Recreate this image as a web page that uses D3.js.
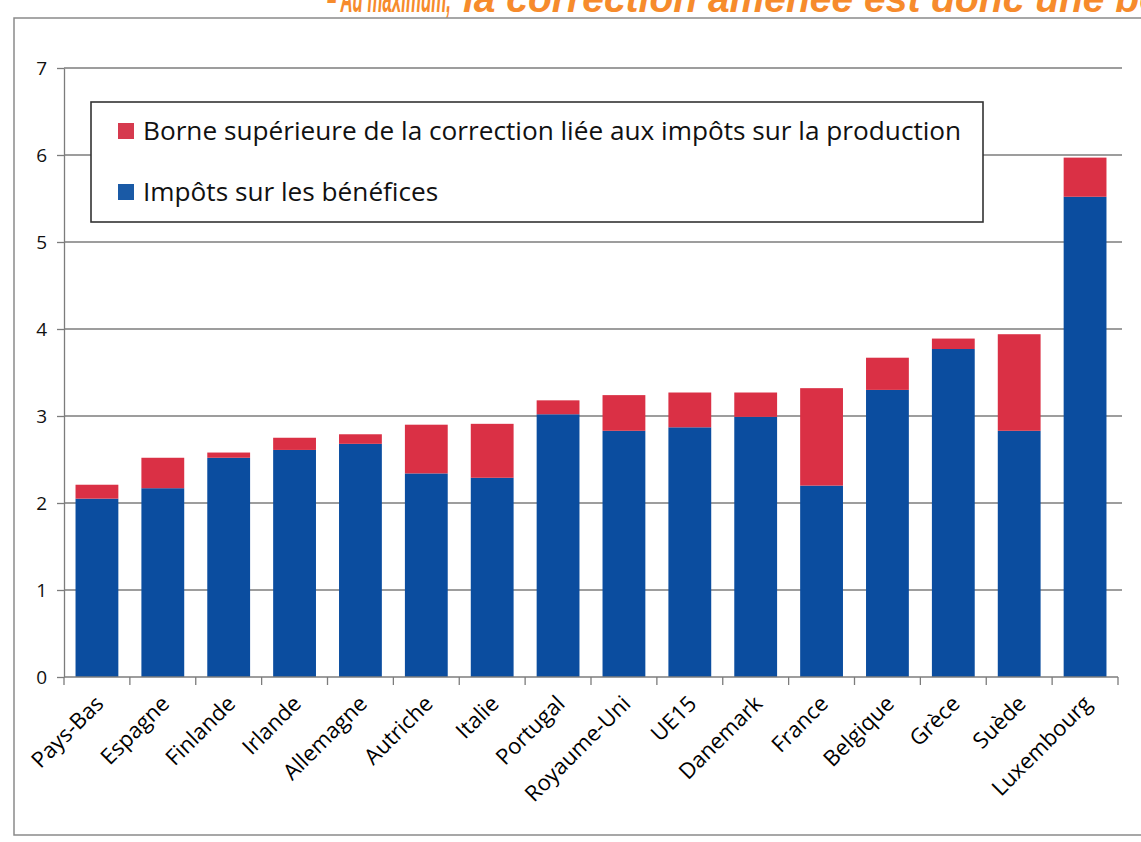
<!DOCTYPE html>
<html>
<head>
<meta charset="utf-8">
<script src="https://cdn.jsdelivr.net/npm/d3@7"></script>
<style>
  body { margin: 0; background: #fff; }
  svg { display: block; }
</style>
</head>
<body>
<svg id="chart" width="1141" height="842"></svg>
<script>
// countries, ordered as in the original
var pays = ['Pays-Bas', 'Espagne', 'Finlande', 'Irlande', 'Allemagne', 'Autriche', 'Italie', 'Portugal',
            'Royaume-Uni', 'UE15', 'Danemark', 'France', 'Belgique', 'Grèce', 'Suède', 'Luxembourg'];
// impôts sur les bénéfices (bottom, blue)
var benefices = [2.05, 2.17, 2.52, 2.61, 2.68, 2.34, 2.29, 3.02, 2.83, 2.87, 2.99, 2.20, 3.30, 3.77, 2.83, 5.52];
// borne supérieure de la correction (top, red)
var correction = [0.16, 0.35, 0.06, 0.14, 0.11, 0.56, 0.62, 0.16, 0.41, 0.40, 0.28, 1.12, 0.37, 0.12, 1.11, 0.45];
var yTicks = [0, 1, 2, 3, 4, 5, 6, 7];
var legendLabels = ['Borne supérieure de la correction liée aux impôts sur la production', 'Impôts sur les bénéfices'];

var blue = '#0b4d9f', red = '#da3045';
var svg = d3.select('#chart');
var font = '"Open Sans", sans-serif';

// top title, cut by the page edge
var titleStyle = function(t) {
    t.attr('y', 12)
     .attr('font-family', '"Liberation Sans", Arial, sans-serif')
     .attr('font-size', 39)
     .attr('font-weight', 'bold')
     .attr('font-style', 'italic')
     .attr('fill', '#f68b2c');
};
svg.append('text').call(titleStyle)
    .attr('x', 327)
    .attr('textLength', 124)
    .attr('lengthAdjust', 'spacingAndGlyphs')
    .text('– Au maximum,');
svg.append('text').call(titleStyle)
    .attr('x', 463)
    .text('la correction amenée est donc une borne supérieure');

// outer frame
svg.append('rect')
    .attr('x', 14).attr('y', 18)
    .attr('width', 1160).attr('height', 817)
    .attr('fill', 'none')
    .attr('stroke', '#8a8a8a')
    .attr('stroke-width', 1.5);

var mLeft = 64, mRight = 1118, mTop = 68, mBottom = 677;

var x = d3.scaleBand()
    .domain(pays)
    .range([mLeft, mRight])
    .paddingInner(0.35)
    .paddingOuter(0.175);

var y = d3.scaleLinear()
    .domain([0, 7])
    .range([mBottom, mTop]);

// gridlines
svg.append('g')
    .selectAll('line')
    .data(yTicks.slice(1))
    .enter()
    .append('line')
    .attr('x1', mLeft)
    .attr('x2', mRight + 4)
    .attr('y1', d => y(d))
    .attr('y2', d => y(d))
    .attr('stroke', '#7c7c7c')
    .attr('stroke-width', 1.3);

var yAxis = d3.axisLeft(y)
    .tickValues(yTicks)
    .tickFormat(d3.format('d'))
    .tickSize(7)
    .tickPadding(10)
    .tickSizeOuter(0);

var gy = svg.append('g')
    .attr('transform', 'translate(' + mLeft + ',0)')
    .call(yAxis);
gy.select('.domain').attr('stroke', '#7c7c7c').attr('stroke-width', 1.3);
gy.selectAll('line').attr('stroke', '#7c7c7c').attr('stroke-width', 1.3);
gy.selectAll('text')
    .attr('font-family', font)
    .attr('font-size', 19)
    .attr('fill', '#111');

// stacked bars
var stackData = pays.map((p, i) => ({pays: p, benefices: benefices[i], correction: correction[i]}));
var series = d3.stack().keys(['benefices', 'correction'])(stackData);
var colors = {benefices: blue, correction: red};

svg.append('g')
    .selectAll('g')
    .data(series)
    .enter()
    .append('g')
    .attr('fill', d => colors[d.key])
    .selectAll('rect')
    .data(d => d)
    .enter()
    .append('rect')
    .attr('x', d => x(d.data.pays))
    .attr('width', x.bandwidth())
    .attr('y', d => y(d[1]))
    .attr('height', d => y(d[0]) - y(d[1]));

// x axis: baseline with ticks between categories
var step = x.step();
var gx = svg.append('g').attr('transform', 'translate(0,' + mBottom + ')');
gx.append('line')
    .attr('x1', mLeft).attr('x2', mRight)
    .attr('stroke', '#7c7c7c')
    .attr('stroke-width', 1.3);
gx.selectAll('.tk')
    .data(d3.range(pays.length + 1))
    .enter()
    .append('line')
    .attr('class', 'tk')
    .attr('x1', i => mLeft + i * step)
    .attr('x2', i => mLeft + i * step)
    .attr('y1', 0).attr('y2', 8)
    .attr('stroke', '#7c7c7c')
    .attr('stroke-width', 1.3);
gx.selectAll('.lbl')
    .data(pays)
    .enter()
    .append('text')
    .attr('class', 'lbl')
    .attr('transform', d => 'translate(' + (x(d) + x.bandwidth() / 2 + 8) + ',28) rotate(-45)')
    .attr('text-anchor', 'end')
    .attr('font-family', font)
    .attr('font-size', 22)
    .attr('fill', '#000')
    .text(d => d);

// legend
var lg = svg.append('g');
lg.append('rect')
    .attr('x', 91).attr('y', 102)
    .attr('width', 892).attr('height', 120)
    .attr('fill', '#fff')
    .attr('stroke', '#333')
    .attr('stroke-width', 1.6);
var items = lg.selectAll('.item')
    .data(legendLabels)
    .enter()
    .append('g')
    .attr('transform', (d, i) => 'translate(118,' + (123 + i * 61) + ')');
items.append('rect')
    .attr('width', 16).attr('height', 16)
    .attr('fill', (d, i) => i === 0 ? '#d63a4e' : '#1a5aa6');
items.append('text')
    .attr('x', 25)
    .attr('y', 17)
    .attr('font-family', font)
    .attr('font-size', 26.2)
    .attr('fill', '#111')
    .text(d => d);
</script>
</body>
</html>
